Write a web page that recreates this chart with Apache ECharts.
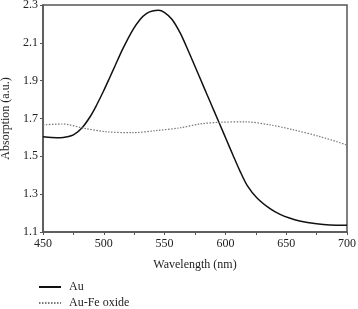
<!DOCTYPE html>
<html>
<head>
<meta charset="utf-8">
<script src="https://cdn.jsdelivr.net/npm/echarts@6/dist/echarts.min.js"></script>
<style>
  html, body { margin: 0; padding: 0; background: #fff; }
  #main { width: 358px; height: 309px; }
</style>
</head>
<body>
<div id="main"></div>
<script>
// Au curve
var auWave = [450, 457, 464, 470, 475, 482, 489, 494, 500, 505, 509, 516, 524, 530, 535, 540, 545, 550, 556, 563, 570, 576, 582, 587, 591, 596, 601, 606, 612, 618, 626, 637, 645, 652, 661, 675, 686, 700];
var auAbs  = [1.604, 1.600, 1.598, 1.603, 1.613, 1.650, 1.712, 1.770, 1.848, 1.918, 1.975, 2.073, 2.170, 2.225, 2.255, 2.268, 2.272, 2.260, 2.225, 2.150, 2.050, 1.960, 1.870, 1.795, 1.735, 1.660, 1.585, 1.510, 1.422, 1.345, 1.280, 1.222, 1.193, 1.175, 1.158, 1.143, 1.137, 1.136];

// Au-Fe oxide curve
var feWave = [450, 466, 484, 502, 524, 543, 563, 579, 595, 617, 637, 656, 678, 700];
var feAbs  = [1.666, 1.671, 1.648, 1.630, 1.625, 1.636, 1.651, 1.671, 1.680, 1.682, 1.666, 1.640, 1.604, 1.560];

var seriesNames = ['Au', 'Au-Fe oxide'];

function pairs(xs, ys) {
    var out = [];
    for (var i = 0; i < xs.length; i++) out.push([xs[i], ys[i]]);
    return out;
}

var font = 'Liberation Serif';
var axisColor = '#555';
var textColor = '#222';

function legendAt(name, top) {
    return {
        left: 38,
        top: top,
        padding: 0,
        itemWidth: 22,
        itemHeight: 8,
        itemGap: 0,
        itemStyle: { opacity: 0 },
        textStyle: { fontFamily: font, fontSize: 12, color: textColor, padding: [0, 0, 0, 3] },
        data: [name]
    };
}

var chart = echarts.init(document.getElementById('main'));
chart.setOption({
    animation: false,
    textStyle: { fontFamily: font },
    grid: {
        left: 43,
        top: 5,
        right: 11,
        bottom: 77,
        outerBoundsMode: 'none',
        containLabel: false,
        show: true,
        borderColor: axisColor,
        borderWidth: 1.5
    },
    legend: [legendAt(seriesNames[0], 281), legendAt(seriesNames[1], 297)],
    xAxis: {
        type: 'value',
        min: 450,
        max: 700,
        interval: 25,
        name: 'Wavelength (nm)',
        nameLocation: 'middle',
        nameGap: 27,
        nameTextStyle: { fontFamily: font, fontSize: 12, color: textColor },
        splitLine: { show: false },
        axisLine: { lineStyle: { color: axisColor, width: 1.5 } },
        axisTick: { length: 3, lineStyle: { color: axisColor } },
        axisLabel: {
            fontFamily: font,
            fontSize: 12,
            color: textColor,
            margin: 6,
            formatter: function (v) { return v % 50 === 0 ? String(v) : ''; }
        }
    },
    yAxis: {
        type: 'value',
        min: 1.1,
        max: 2.3,
        interval: 0.2,
        name: 'Absorption (a.u.)',
        nameLocation: 'middle',
        nameGap: 25,
        nameTextStyle: { fontFamily: font, fontSize: 12, color: textColor },
        splitLine: { show: false },
        axisLine: { lineStyle: { color: axisColor, width: 1.5 } },
        axisTick: { length: 3, lineStyle: { color: axisColor } },
        axisLabel: {
            fontFamily: font,
            fontSize: 12,
            color: textColor,
            margin: 5,
            formatter: function (v) { return v.toFixed(1); }
        }
    },
    series: [
        {
            name: seriesNames[0],
            type: 'line',
            smooth: 0.3,
            showSymbol: false,
            data: pairs(auWave, auAbs),
            lineStyle: { color: '#111', width: 1.5 },
            itemStyle: { color: '#111' }
        },
        {
            name: seriesNames[1],
            type: 'line',
            smooth: 0.3,
            showSymbol: false,
            data: pairs(feWave, feAbs),
            lineStyle: { color: '#777', width: 1.2, type: [1.5, 1.5] },
            itemStyle: { color: '#777' }
        }
    ]
});
</script>
</body>
</html>
